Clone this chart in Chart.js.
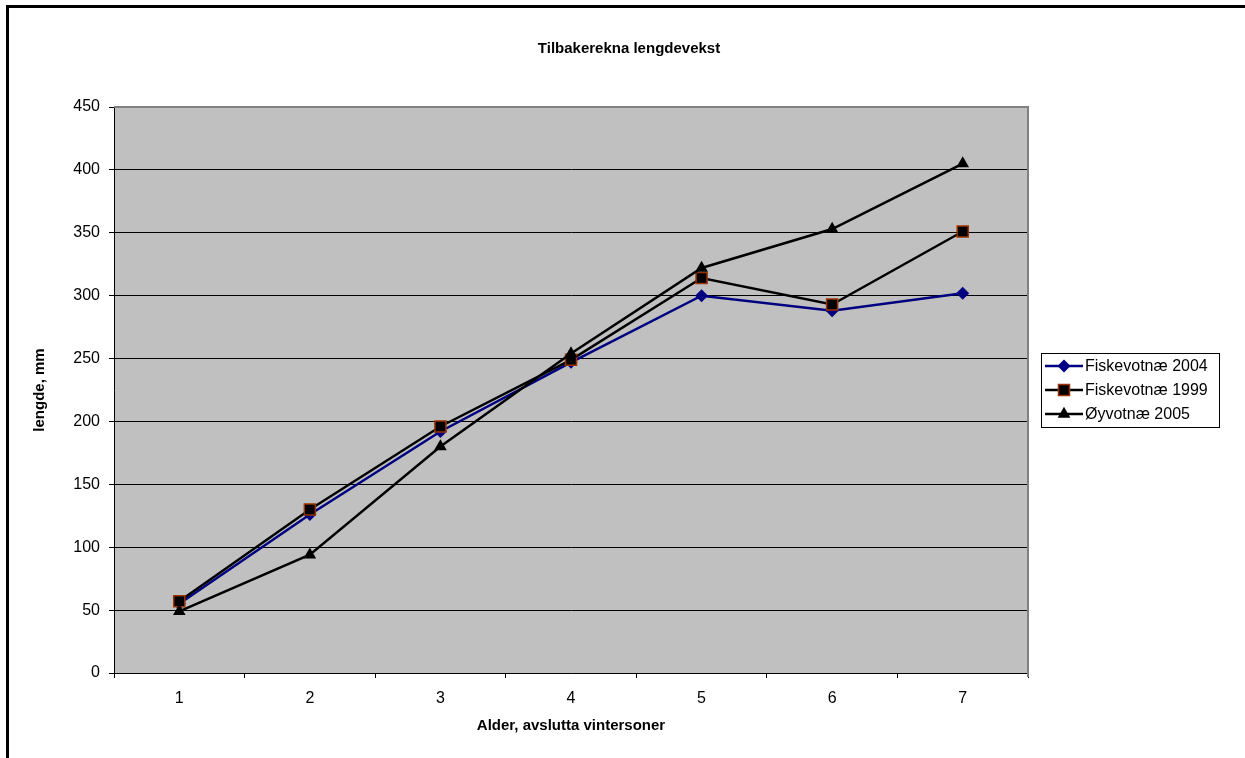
<!DOCTYPE html>
<html>
<head>
<meta charset="utf-8">
<title>Tilbakerekna lengdevekst</title>
<script src="https://cdn.jsdelivr.net/npm/chart.js@4.4.0/dist/chart.umd.min.js"></script>
<style>
    html, body { margin: 0; padding: 0; background: #fff; overflow: hidden; }
    #wrap { position: relative; width: 1245px; height: 758px; overflow: hidden; }
    #frame { position: absolute; left: 6px; top: 5px; right: -10px; bottom: -10px; border: 3px solid #000; pointer-events: none; }
    canvas { position: absolute; left: 0; top: 0; }
</style>
</head>
<body>
<div id="wrap">
    <canvas id="lengdeChart" width="1245" height="758"></canvas>
    <div id="frame"></div>
</div>
<script>
// Data
const ages = ['1', '2', '3', '4', '5', '6', '7'];
const fiske2004 = [55, 126, 192, 247, 300, 288, 302];
const fiske1999 = [57, 130, 196, 249, 314, 293, 351];
const oyvo2005 = [49, 94, 180, 254, 322, 353, 405];
const seriesNames = ['Fiskevotnæ 2004', 'Fiskevotnæ 1999', 'Øyvotnæ 2005'];
const yMin = 0, yMax = 450, yStep = 50;

Chart.defaults.font.family = 'Arial, "Liberation Sans", sans-serif';
Chart.defaults.color = '#000';

// Grey plot area and its grey top/right edge
const plotArea = {
    id: 'plotArea',
    beforeDraw(chart) {
        const { ctx, chartArea: a } = chart;
        ctx.save();
        ctx.fillStyle = '#c0c0c0';
        ctx.fillRect(a.left, a.top, a.right - a.left, a.bottom - a.top);
        ctx.restore();
    },
    afterDraw(chart) {
        const { ctx, chartArea: a } = chart;
        ctx.save();
        ctx.strokeStyle = '#808080';
        ctx.lineWidth = 2;
        ctx.beginPath();
        ctx.moveTo(a.left, a.top);
        ctx.lineTo(a.right, a.top);
        ctx.lineTo(a.right, a.bottom + 4);
        ctx.stroke();
        ctx.restore();
    }
};

// Legend box to the right, line + marker samples like the original
const boxLegend = {
    id: 'boxLegend',
    afterDraw(chart) {
        const { ctx, chartArea: a } = chart;
        const w = 178, h = 74;
        const x = a.right + 13;
        const y = Math.round((a.top + a.bottom) / 2 - h / 2);
        ctx.save();
        ctx.fillStyle = '#fff';
        ctx.fillRect(x, y, w, h);
        ctx.strokeStyle = '#000';
        ctx.lineWidth = 1;
        ctx.strokeRect(x + 0.5, y + 0.5, w, h);
        chart.data.datasets.forEach((ds, i) => {
            const cy = y + 13 + i * 24;
            ctx.strokeStyle = ds.borderColor;
            ctx.lineWidth = ds.borderWidth;
            ctx.beginPath();
            ctx.moveTo(x + 4, cy);
            ctx.lineTo(x + 42, cy);
            ctx.stroke();
            ctx.fillStyle = ds.pointBackgroundColor;
            ctx.strokeStyle = ds.pointBorderColor;
            ctx.lineWidth = ds.pointBorderWidth;
            Chart.helpers.drawPoint(ctx, {
                pointStyle: ds.pointStyle,
                radius: ds.pointRadius,
                borderWidth: ds.pointBorderWidth,
                rotation: 0
            }, x + 23, cy);
            ctx.fillStyle = '#000';
            ctx.font = '16px Arial, "Liberation Sans", sans-serif';
            ctx.textBaseline = 'middle';
            ctx.textAlign = 'left';
            ctx.fillText(ds.label, x + 44, cy + 1);
        });
        ctx.restore();
    }
};

const ctx = document.getElementById('lengdeChart').getContext('2d');
new Chart(ctx, {
    type: 'line',
    data: {
        labels: ages,
        datasets: [{
            label: seriesNames[0],
            data: fiske2004,
            borderColor: '#000080',
            borderWidth: 2.5,
            pointStyle: 'rectRot',
            pointRadius: 6.5,
            pointBackgroundColor: '#000080',
            pointBorderColor: '#000080',
            pointBorderWidth: 0,
            order: 3
        }, {
            label: seriesNames[1],
            data: fiske1999,
            borderColor: '#000',
            borderWidth: 2.5,
            pointStyle: 'rect',
            pointRadius: 7.8,
            pointBackgroundColor: '#000',
            pointBorderColor: '#993300',
            pointBorderWidth: 1.5,
            order: 2
        }, {
            label: seriesNames[2],
            data: oyvo2005,
            borderColor: '#000',
            borderWidth: 2.5,
            pointStyle: 'triangle',
            pointRadius: 7.3,
            pointBackgroundColor: '#000',
            pointBorderColor: '#000',
            pointBorderWidth: 0,
            order: 1
        }]
    },
    options: {
        responsive: false,
        animation: false,
        devicePixelRatio: 1,
        events: [],
        layout: { padding: { left: 13, right: 0, top: 0, bottom: 0 } },
        elements: { line: { tension: 0 } },
        plugins: {
            legend: { display: false },
            tooltip: { enabled: false },
            title: {
                display: true,
                text: 'Tilbakerekna lengdevekst',
                color: '#000',
                font: { size: 15, weight: 'bold' },
                padding: { top: 40, bottom: 49 }
            }
        },
        scales: {
            x: {
                type: 'category',
                offset: true,
                grid: { offset: true, drawOnChartArea: false, drawTicks: true, tickLength: 5, color: '#000' },
                border: { display: true, color: '#000', width: 1 },
                ticks: { color: '#000', padding: 11, font: { size: 16 }, maxRotation: 0 },
                title: {
                    display: true,
                    text: 'Alder, avslutta vintersoner',
                    color: '#000',
                    font: { size: 15, weight: 'bold' },
                    padding: { top: 0, bottom: 23 }
                },
                afterFit: function(scale) { scale.height = 85; }
            },
            y: {
                min: yMin,
                max: yMax,
                grid: {
                    color: c => (c.tick && c.tick.value === yMax) ? '#808080' : '#000',
                    tickColor: '#000',
                    tickLength: 5,
                    lineWidth: 1
                },
                border: { display: true, color: '#000', width: 1 },
                ticks: { stepSize: yStep, color: '#000', padding: 9, font: { size: 16 } },
                title: {
                    display: true,
                    text: 'lengde, mm',
                    color: '#000',
                    font: { size: 15, weight: 'bold' },
                    padding: { top: 18, bottom: 0 }
                },
                afterFit: function(scale) { scale.width = 101; }
            },
            y2: {
                position: 'right',
                display: true,
                grid: { display: false, drawTicks: false },
                border: { display: false },
                ticks: { display: false },
                afterFit: function(scale) { scale.width = 217; }
            }
        }
    },
    plugins: [plotArea, boxLegend]
});
</script>
</body>
</html>
